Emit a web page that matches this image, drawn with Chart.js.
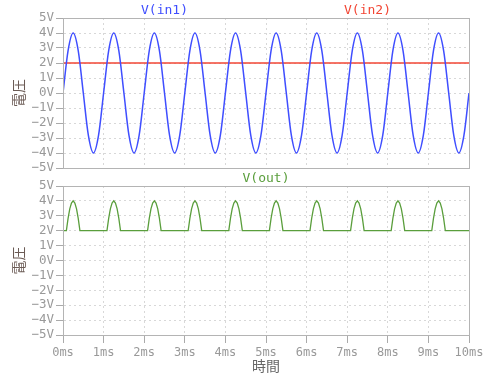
<!DOCTYPE html>
<html>
<head>
<meta charset="utf-8">
<script src="https://cdn.jsdelivr.net/npm/chart.js@4.4.1/dist/chart.umd.min.js"></script>
<style>
  body { margin: 0; background: #fff; }
  #wrap { position: relative; width: 502px; height: 382px; }
  canvas { position: absolute; left: 0; }
  #topChart { top: 0; }
  #bottomChart { top: 160px; }
</style>
</head>
<body>
<div id="wrap">
  <canvas id="topChart" width="502" height="176"></canvas>
  <canvas id="bottomChart" width="502" height="222"></canvas>
</div>
<script>
// time samples (ms) for the input sine
const in1Time = [
  0,0.125,0.25,0.375,0.5,0.625,0.75,0.875,
  1,1.125,1.25,1.375,1.5,1.625,1.75,1.875,
  2,2.125,2.25,2.375,2.5,2.625,2.75,2.875,
  3,3.125,3.25,3.375,3.5,3.625,3.75,3.875,
  4,4.125,4.25,4.375,4.5,4.625,4.75,4.875,
  5,5.125,5.25,5.375,5.5,5.625,5.75,5.875,
  6,6.125,6.25,6.375,6.5,6.625,6.75,6.875,
  7,7.125,7.25,7.375,7.5,7.625,7.75,7.875,
  8,8.125,8.25,8.375,8.5,8.625,8.75,8.875,
  9,9.125,9.25,9.375,9.5,9.625,9.75,9.875,
  10
];
// V(in1) in volts
const in1Volt = [
  0,2.83,4,2.83,0,-2.83,-4,-2.83,
  0,2.83,4,2.83,0,-2.83,-4,-2.83,
  0,2.83,4,2.83,0,-2.83,-4,-2.83,
  0,2.83,4,2.83,0,-2.83,-4,-2.83,
  0,2.83,4,2.83,0,-2.83,-4,-2.83,
  0,2.83,4,2.83,0,-2.83,-4,-2.83,
  0,2.83,4,2.83,0,-2.83,-4,-2.83,
  0,2.83,4,2.83,0,-2.83,-4,-2.83,
  0,2.83,4,2.83,0,-2.83,-4,-2.83,
  0,2.83,4,2.83,0,-2.83,-4,-2.83,
  0
];
// V(in2) is a flat 2V line
const in2Time = [0, 10];
const in2Volt = [2, 2];

// V(out): flat at 2V, follows the sine humps above 2V
const outTime = [
  0,
  0.0833,0.125,0.1667,0.2083,0.25,0.2917,0.3333,0.375,0.4167,
  1.0833,1.125,1.1667,1.2083,1.25,1.2917,1.3333,1.375,1.4167,
  2.0833,2.125,2.1667,2.2083,2.25,2.2917,2.3333,2.375,2.4167,
  3.0833,3.125,3.1667,3.2083,3.25,3.2917,3.3333,3.375,3.4167,
  4.0833,4.125,4.1667,4.2083,4.25,4.2917,4.3333,4.375,4.4167,
  5.0833,5.125,5.1667,5.2083,5.25,5.2917,5.3333,5.375,5.4167,
  6.0833,6.125,6.1667,6.2083,6.25,6.2917,6.3333,6.375,6.4167,
  7.0833,7.125,7.1667,7.2083,7.25,7.2917,7.3333,7.375,7.4167,
  8.0833,8.125,8.1667,8.2083,8.25,8.2917,8.3333,8.375,8.4167,
  9.0833,9.125,9.1667,9.2083,9.25,9.2917,9.3333,9.375,9.4167,
  10
];
const outVolt = [
  2,
  2,2.83,3.46,3.86,4,3.86,3.46,2.83,2,
  2,2.83,3.46,3.86,4,3.86,3.46,2.83,2,
  2,2.83,3.46,3.86,4,3.86,3.46,2.83,2,
  2,2.83,3.46,3.86,4,3.86,3.46,2.83,2,
  2,2.83,3.46,3.86,4,3.86,3.46,2.83,2,
  2,2.83,3.46,3.86,4,3.86,3.46,2.83,2,
  2,2.83,3.46,3.86,4,3.86,3.46,2.83,2,
  2,2.83,3.46,3.86,4,3.86,3.46,2.83,2,
  2,2.83,3.46,3.86,4,3.86,3.46,2.83,2,
  2,2.83,3.46,3.86,4,3.86,3.46,2.83,2,
  2
];

const xTicks = [0,1,2,3,4,5,6,7,8,9,10];
const yTicks = [-5,-4,-3,-2,-1,0,1,2,3,4,5];

const MONO = '"DejaVu Sans Mono", monospace';
const CJK = '"Noto Sans CJK JP", sans-serif';

function points(xs, ys) {
  return xs.map((x, i) => ({ x: x, y: ys[i] }));
}

// frame around the plot + trace names above it
const framePlugin = {
  id: 'frame',
  afterDraw(chart) {
    const ctx = chart.ctx;
    const a = chart.chartArea;
    ctx.save();
    ctx.strokeStyle = '#b4b4b4';
    ctx.lineWidth = 1;
    ctx.strokeRect(Math.round(a.left) + 0.5, Math.round(a.top) + 0.5,
      Math.round(a.right - a.left), Math.round(a.bottom - a.top));
    const sets = chart.data.datasets;
    ctx.font = '13px ' + MONO;
    ctx.textAlign = 'center';
    ctx.textBaseline = 'middle';
    sets.forEach((ds, i) => {
      ctx.fillStyle = ds.borderColor;
      ctx.fillText(ds.label, a.left + (a.right - a.left) * (i + 0.5) / sets.length, a.top - 7);
    });
    ctx.restore();
  }
};

function yScale() {
  return {
    type: 'linear',
    min: -5, max: 5,
    afterBuildTicks: s => { s.ticks = yTicks.map(v => ({ value: v })); },
    afterFit: s => { s.width = 63; s.paddingTop = 0; s.paddingBottom = 0; },
    ticks: {
      autoSkip: false,
      padding: 2,
      color: '#999',
      font: { family: MONO, size: 12.5 },
      callback: v => (v < 0 ? '\u2212' + (-v) : v) + 'V'
    },
    grid: { color: '#d8d8d8', tickLength: 7, tickColor: '#aaa' },
    border: { color: '#b4b4b4', dash: [2, 3] },
    title: {
      display: true, text: '電圧', color: '#6b5b55',
      font: { family: CJK, size: 14 },
      padding: { top: 10, bottom: 0 }
    }
  };
}

function xScale(showLabels) {
  return {
    type: 'linear',
    min: 0, max: 10,
    afterBuildTicks: s => { s.ticks = xTicks.map(v => ({ value: v })); },
    afterFit: s => { s.height = showLabels ? 47 : 0; },
    ticks: {
      display: showLabels,
      autoSkip: false,
      maxRotation: 0,
      padding: 3,
      color: '#999',
      font: { family: MONO, size: 12 },
      callback: v => v + 'ms'
    },
    grid: { color: '#d8d8d8', drawTicks: showLabels, tickLength: 8, tickColor: '#aaa' },
    border: { color: '#b4b4b4', dash: [2, 3] },
    title: {
      display: showLabels, text: '時間', color: '#666',
      font: { family: CJK, size: 14 },
      padding: { top: 0, bottom: 8 }
    }
  };
}

new Chart(document.getElementById('topChart'), {
  type: 'line',
  data: {
    datasets: [
      {
        label: 'V(in1)',
        data: points(in1Time, in1Volt),
        borderColor: '#3f4eff',
        borderWidth: 1.5,
        pointRadius: 0,
        cubicInterpolationMode: 'monotone'
      },
      {
        label: 'V(in2)',
        data: points(in2Time, in2Volt),
        borderColor: '#f24634',
        borderWidth: 1.6,
        pointRadius: 0
      }
    ]
  },
  options: {
    responsive: false,
    animation: false,
    layout: { padding: { top: 18, right: 33, left: 0, bottom: 8 } },
    plugins: { legend: { display: false }, tooltip: { enabled: false } },
    scales: { x: xScale(false), y: yScale() }
  },
  plugins: [framePlugin]
});

new Chart(document.getElementById('bottomChart'), {
  type: 'line',
  data: {
    datasets: [
      {
        label: 'V(out)',
        data: points(outTime, outVolt),
        borderColor: '#5a9e3c',
        borderWidth: 1.3,
        pointRadius: 0,
        tension: 0
      }
    ]
  },
  options: {
    responsive: false,
    animation: false,
    layout: { padding: { top: 26, right: 33, left: 0, bottom: 0 } },
    plugins: { legend: { display: false }, tooltip: { enabled: false } },
    scales: { x: xScale(true), y: yScale() }
  },
  plugins: [framePlugin]
});
</script>
</body>
</html>
